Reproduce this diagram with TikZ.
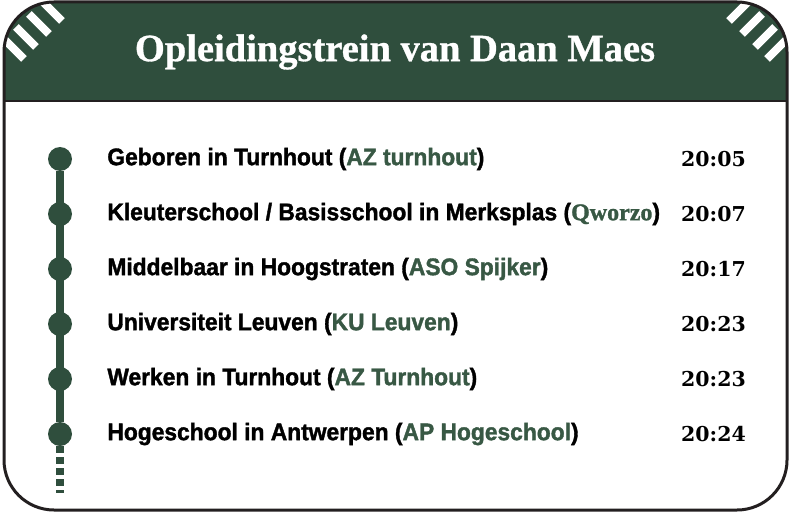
\documentclass[tikz,border=0pt]{standalone}
\usepackage{fontspec}
\setmainfont{Liberation Sans}
\newfontfamily\itemfont{Liberation Sans Bold}[FakeStretch=0.95, FakeBold=1.5]
\newfontfamily\titlefont{Liberation Serif Bold}[FakeBold=0.8]
\newfontfamily\timefont{DejaVu Serif Bold}
\newfontfamily\serifname{Liberation Serif Bold}[FakeBold=1.2]
\usetikzlibrary{positioning,backgrounds}
\definecolor{railgreen}{HTML}{2F4E3D}
\definecolor{namegreen}{HTML}{385844}
\definecolor{framegray}{HTML}{231F20}
\newcommand{\place}[1]{\textcolor{namegreen}{#1}}

\begin{document}
\begin{tikzpicture}[x=1pt, y=-1pt,
    node distance=55pt,
    frame/.style={draw=framegray, line width=3pt, rounded corners=50pt},
    stripe/.style={draw=white, line width=8pt},
    dot/.style={circle, fill=railgreen, minimum size=24pt, inner sep=0pt, on grid},
    rail/.style={draw=railgreen, line width=8pt},
    railend/.style={rail, dash pattern=on 7pt off 4pt},
    item/.style={font=\itemfont\fontsize{24}{27}\selectfont, inner sep=0pt},
    time/.style={font=\timefont\fontsize{20.5}{24}\selectfont, inner sep=0pt, anchor=west},
    title/.style={font=\titlefont\fontsize{38.5}{44}\selectfont, text=white}]

\useasboundingbox (0,0) rectangle (791,513);

\begin{scope}
\clip[rounded corners=50pt] (4,2) rectangle (787,510);
\fill[railgreen] (0,0) rectangle (791,101);
\draw[stripe] (4,39) -- (24,59);
\draw[stripe] (16,27) -- (36,47);
\draw[stripe] (29,14) -- (49,34);
\draw[stripe] (42,1) -- (62,21);
\draw[stripe] (787,39) -- (767,59);
\draw[stripe] (775,27) -- (755,47);
\draw[stripe] (762,14) -- (742,34);
\draw[stripe] (749,1) -- (729,21);
\end{scope}
\draw[framegray, line width=2.5pt] (4,101) -- (787,101);
\draw[frame] (4,2) rectangle (787,510);

\node[title] (head) at (395,52) {Opleidingstrein van Daan Maes};

\node[dot] (d1) at (60,159) {};
\node[dot] (d2) [below=of d1] {};
\node[dot] (d3) [below=of d2] {};
\node[dot] (d4) [below=of d3] {};
\node[dot] (d5) [below=of d4] {};
\node[dot] (d6) [below=of d5] {};
\coordinate (end) at (60,493);
\coordinate (tcol) at (681,0);

\begin{scope}[on background layer]
\draw[rail] (d1) -- (d6);
\draw[railend] (d6.south) -- (end);
\end{scope}

\node[item] (s1) [right=35pt of d1] {Geboren in Turnhout (\place{AZ turnhout})};
\node[item] (s2) [right=35pt of d2] {Kleuterschool / Basisschool in Merksplas (\place{\serifname Qworzo})};
\node[item] (s3) [right=35pt of d3] {Middelbaar in Hoogstraten (\place{ASO Spijker})};
\node[item] (s4) [right=35pt of d4] {Universiteit Leuven (\place{KU Leuven})};
\node[item] (s5) [right=35pt of d5] {Werken in Turnhout (\place{AZ Turnhout})};
\node[item] (s6) [right=35pt of d6] {Hogeschool in Antwerpen (\place{AP Hogeschool})};

\node[time] (t1) at (d1 -| tcol) {20:05};
\node[time] (t2) at (d2 -| tcol) {20:07};
\node[time] (t3) at (d3 -| tcol) {20:17};
\node[time] (t4) at (d4 -| tcol) {20:23};
\node[time] (t5) at (d5 -| tcol) {20:23};
\node[time] (t6) at (d6 -| tcol) {20:24};

\end{tikzpicture}
\end{document}
